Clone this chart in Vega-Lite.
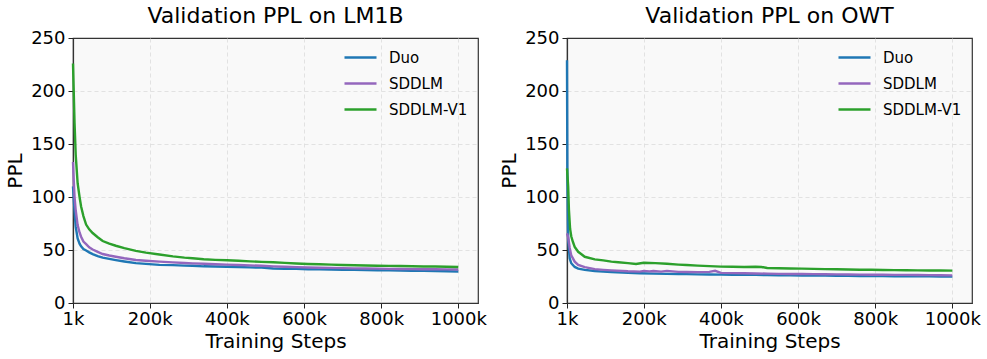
{
  "$schema": "https://vega.github.io/schema/vega-lite/v6.json",
  "padding": {"left": 5, "top": 4, "right": 5, "bottom": 2},
  "background": "white",
  "config": {
    "font": "DejaVu Sans",
    "view": {"stroke": "#333333", "strokeWidth": 1.2, "fill": "#f9f9f9"},
    "axis": {
      "domain": true,
      "domainColor": "#333333",
      "domainWidth": 1.2,
      "grid": true,
      "gridDash": [4, 3],
      "gridWidth": 0.8,
      "tickColor": "#222222",
      "tickSize": 5,
      "tickWidth": 1,
      "labelFont": "DejaVu Sans",
      "labelFontSize": 18,
      "labelColor": "#000000",
      "labelPadding": 2,
      "labelFlush": false,
      "labelOverlap": false,
      "titleFont": "DejaVu Sans",
      "titleFontSize": 20,
      "titleFontWeight": "normal",
      "titleColor": "#000000"
    },
    "axisY": {"titlePadding": 5, "labelPadding": 3},
    "axisX": {"titlePadding": 3},
    "title": {"font": "DejaVu Sans", "fontSize": 22, "fontWeight": "normal", "color": "#000000", "offset": 0, "dy": 3, "frame": "group", "anchor": "middle"},
    "legend": {
      "orient": "none",
      "legendX": 270,
      "legendY": 2,
      "padding": 0,
      "title": null,
      "symbolType": "stroke",
      "symbolSize": 1024,
      "symbolStrokeWidth": 2.6,
      "labelFont": "DejaVu Sans",
      "labelFontSize": 15,
      "labelColor": "#000000",
      "labelOffset": 11,
      "rowPadding": -3
    }
  },
  "spacing": 11,
  "resolve": {"scale": {"color": "independent"}, "legend": {"color": "independent"}},
  "datasets": {
    "lm1b": [
      {"model":"Duo","step":1,"ppl":110},{"model":"Duo","step":3,"ppl":98},{"model":"Duo","step":5,"ppl":87},{"model":"Duo","step":8,"ppl":72},{"model":"Duo","step":13,"ppl":61},{"model":"Duo","step":18,"ppl":56},{"model":"Duo","step":22,"ppl":53.5},{"model":"Duo","step":28,"ppl":51},{"model":"Duo","step":35,"ppl":49.5},{"model":"Duo","step":43,"ppl":47.8},{"model":"Duo","step":52,"ppl":46.2},{"model":"Duo","step":65,"ppl":44.3},{"model":"Duo","step":78,"ppl":42.8},{"model":"Duo","step":95,"ppl":41.6},{"model":"Duo","step":112,"ppl":40.5},{"model":"Duo","step":134,"ppl":39.2},{"model":"Duo","step":164,"ppl":37.6},{"model":"Duo","step":190,"ppl":36.9},{"model":"Duo","step":225,"ppl":36.0},{"model":"Duo","step":260,"ppl":35.7},{"model":"Duo","step":290,"ppl":35.3},{"model":"Duo","step":311,"ppl":35.1},{"model":"Duo","step":340,"ppl":34.6},{"model":"Duo","step":370,"ppl":34.4},{"model":"Duo","step":400,"ppl":34.2},{"model":"Duo","step":430,"ppl":34.0},{"model":"Duo","step":460,"ppl":33.6},{"model":"Duo","step":490,"ppl":33.4},{"model":"Duo","step":520,"ppl":32.6},{"model":"Duo","step":550,"ppl":32.3},{"model":"Duo","step":580,"ppl":32.2},{"model":"Duo","step":610,"ppl":31.9},{"model":"Duo","step":640,"ppl":31.8},{"model":"Duo","step":670,"ppl":31.5},{"model":"Duo","step":700,"ppl":31.4},{"model":"Duo","step":730,"ppl":31.3},{"model":"Duo","step":760,"ppl":31.1},{"model":"Duo","step":790,"ppl":30.9},{"model":"Duo","step":820,"ppl":30.8},{"model":"Duo","step":850,"ppl":30.6},{"model":"Duo","step":880,"ppl":30.4},{"model":"Duo","step":910,"ppl":30.3},{"model":"Duo","step":940,"ppl":30.1},{"model":"Duo","step":970,"ppl":29.9},{"model":"Duo","step":1000,"ppl":29.7},
      {"model":"SDDLM","step":1,"ppl":133},{"model":"SDDLM","step":3,"ppl":115},{"model":"SDDLM","step":5,"ppl":100},{"model":"SDDLM","step":8,"ppl":87.5},{"model":"SDDLM","step":13,"ppl":73.5},{"model":"SDDLM","step":18,"ppl":66.5},{"model":"SDDLM","step":22,"ppl":62.5},{"model":"SDDLM","step":28,"ppl":58},{"model":"SDDLM","step":35,"ppl":55.5},{"model":"SDDLM","step":43,"ppl":52.5},{"model":"SDDLM","step":52,"ppl":50.5},{"model":"SDDLM","step":65,"ppl":48.2},{"model":"SDDLM","step":78,"ppl":46.2},{"model":"SDDLM","step":95,"ppl":44.8},{"model":"SDDLM","step":112,"ppl":43.6},{"model":"SDDLM","step":134,"ppl":42.2},{"model":"SDDLM","step":164,"ppl":40.6},{"model":"SDDLM","step":190,"ppl":39.8},{"model":"SDDLM","step":225,"ppl":39.0},{"model":"SDDLM","step":260,"ppl":38.3},{"model":"SDDLM","step":290,"ppl":37.8},{"model":"SDDLM","step":311,"ppl":37.4},{"model":"SDDLM","step":340,"ppl":37.0},{"model":"SDDLM","step":370,"ppl":36.6},{"model":"SDDLM","step":400,"ppl":36.2},{"model":"SDDLM","step":430,"ppl":35.9},{"model":"SDDLM","step":460,"ppl":35.5},{"model":"SDDLM","step":490,"ppl":35.1},{"model":"SDDLM","step":520,"ppl":34.6},{"model":"SDDLM","step":550,"ppl":34.2},{"model":"SDDLM","step":580,"ppl":33.8},{"model":"SDDLM","step":610,"ppl":33.5},{"model":"SDDLM","step":640,"ppl":33.3},{"model":"SDDLM","step":670,"ppl":33.1},{"model":"SDDLM","step":700,"ppl":32.9},{"model":"SDDLM","step":730,"ppl":32.7},{"model":"SDDLM","step":760,"ppl":32.5},{"model":"SDDLM","step":790,"ppl":32.4},{"model":"SDDLM","step":820,"ppl":32.2},{"model":"SDDLM","step":850,"ppl":32.1},{"model":"SDDLM","step":880,"ppl":32.0},{"model":"SDDLM","step":910,"ppl":31.9},{"model":"SDDLM","step":940,"ppl":31.8},{"model":"SDDLM","step":970,"ppl":31.7},{"model":"SDDLM","step":1000,"ppl":31.6},
      {"model":"SDDLM-V1","step":1,"ppl":226},{"model":"SDDLM-V1","step":3,"ppl":198},{"model":"SDDLM-V1","step":5,"ppl":170},{"model":"SDDLM-V1","step":8,"ppl":140},{"model":"SDDLM-V1","step":13,"ppl":113},{"model":"SDDLM-V1","step":18,"ppl":100},{"model":"SDDLM-V1","step":22,"ppl":91},{"model":"SDDLM-V1","step":28,"ppl":82},{"model":"SDDLM-V1","step":35,"ppl":74},{"model":"SDDLM-V1","step":43,"ppl":69.5},{"model":"SDDLM-V1","step":52,"ppl":66},{"model":"SDDLM-V1","step":65,"ppl":62},{"model":"SDDLM-V1","step":78,"ppl":58.5},{"model":"SDDLM-V1","step":95,"ppl":56},{"model":"SDDLM-V1","step":112,"ppl":54},{"model":"SDDLM-V1","step":134,"ppl":51.8},{"model":"SDDLM-V1","step":164,"ppl":49.2},{"model":"SDDLM-V1","step":190,"ppl":47.5},{"model":"SDDLM-V1","step":225,"ppl":45.8},{"model":"SDDLM-V1","step":260,"ppl":44},{"model":"SDDLM-V1","step":290,"ppl":42.8},{"model":"SDDLM-V1","step":311,"ppl":42.2},{"model":"SDDLM-V1","step":340,"ppl":41.3},{"model":"SDDLM-V1","step":370,"ppl":40.7},{"model":"SDDLM-V1","step":400,"ppl":40.3},{"model":"SDDLM-V1","step":430,"ppl":39.8},{"model":"SDDLM-V1","step":460,"ppl":39.3},{"model":"SDDLM-V1","step":490,"ppl":38.8},{"model":"SDDLM-V1","step":520,"ppl":38.4},{"model":"SDDLM-V1","step":550,"ppl":37.9},{"model":"SDDLM-V1","step":580,"ppl":37.3},{"model":"SDDLM-V1","step":610,"ppl":36.8},{"model":"SDDLM-V1","step":640,"ppl":36.5},{"model":"SDDLM-V1","step":670,"ppl":36.2},{"model":"SDDLM-V1","step":700,"ppl":35.8},{"model":"SDDLM-V1","step":730,"ppl":35.6},{"model":"SDDLM-V1","step":760,"ppl":35.4},{"model":"SDDLM-V1","step":790,"ppl":35.2},{"model":"SDDLM-V1","step":820,"ppl":35.0},{"model":"SDDLM-V1","step":850,"ppl":34.9},{"model":"SDDLM-V1","step":880,"ppl":34.7},{"model":"SDDLM-V1","step":910,"ppl":34.5},{"model":"SDDLM-V1","step":940,"ppl":34.4},{"model":"SDDLM-V1","step":970,"ppl":34.2},{"model":"SDDLM-V1","step":1000,"ppl":34.0}
    ],
    "owt": [
      {"model":"Duo","step":1,"ppl":229},{"model":"Duo","step":2,"ppl":120},{"model":"Duo","step":4,"ppl":60},{"model":"Duo","step":8,"ppl":42},{"model":"Duo","step":12,"ppl":37.5},{"model":"Duo","step":21,"ppl":34},{"model":"Duo","step":30,"ppl":32.5},{"model":"Duo","step":47,"ppl":31.2},{"model":"Duo","step":73,"ppl":30.2},{"model":"Duo","step":95,"ppl":29.6},{"model":"Duo","step":116,"ppl":29.2},{"model":"Duo","step":159,"ppl":28.5},{"model":"Duo","step":190,"ppl":28.0},{"model":"Duo","step":225,"ppl":27.7},{"model":"Duo","step":260,"ppl":27.5},{"model":"Duo","step":290,"ppl":27.3},{"model":"Duo","step":311,"ppl":27.2},{"model":"Duo","step":340,"ppl":27.0},{"model":"Duo","step":370,"ppl":26.9},{"model":"Duo","step":400,"ppl":26.8},{"model":"Duo","step":430,"ppl":26.7},{"model":"Duo","step":460,"ppl":26.6},{"model":"Duo","step":490,"ppl":26.5},{"model":"Duo","step":520,"ppl":26.3},{"model":"Duo","step":550,"ppl":26.2},{"model":"Duo","step":580,"ppl":26.1},{"model":"Duo","step":610,"ppl":26.0},{"model":"Duo","step":640,"ppl":25.9},{"model":"Duo","step":670,"ppl":25.8},{"model":"Duo","step":700,"ppl":25.7},{"model":"Duo","step":730,"ppl":25.6},{"model":"Duo","step":760,"ppl":25.5},{"model":"Duo","step":790,"ppl":25.5},{"model":"Duo","step":820,"ppl":25.4},{"model":"Duo","step":850,"ppl":25.3},{"model":"Duo","step":880,"ppl":25.2},{"model":"Duo","step":910,"ppl":25.2},{"model":"Duo","step":940,"ppl":25.1},{"model":"Duo","step":970,"ppl":25.0},{"model":"Duo","step":1000,"ppl":24.9},
      {"model":"SDDLM","step":1,"ppl":65.7},{"model":"SDDLM","step":4,"ppl":62},{"model":"SDDLM","step":8,"ppl":52},{"model":"SDDLM","step":12,"ppl":45},{"model":"SDDLM","step":21,"ppl":39},{"model":"SDDLM","step":30,"ppl":36},{"model":"SDDLM","step":47,"ppl":33.8},{"model":"SDDLM","step":73,"ppl":32},{"model":"SDDLM","step":95,"ppl":31.3},{"model":"SDDLM","step":116,"ppl":30.8},{"model":"SDDLM","step":159,"ppl":29.9},{"model":"SDDLM","step":190,"ppl":29.6},{"model":"SDDLM","step":200,"ppl":30.3},{"model":"SDDLM","step":215,"ppl":29.8},{"model":"SDDLM","step":225,"ppl":30.2},{"model":"SDDLM","step":245,"ppl":29.6},{"model":"SDDLM","step":260,"ppl":30.3},{"model":"SDDLM","step":290,"ppl":29.4},{"model":"SDDLM","step":311,"ppl":29.3},{"model":"SDDLM","step":340,"ppl":29.1},{"model":"SDDLM","step":370,"ppl":29.4},{"model":"SDDLM","step":385,"ppl":30.4},{"model":"SDDLM","step":400,"ppl":28.4},{"model":"SDDLM","step":430,"ppl":28.2},{"model":"SDDLM","step":460,"ppl":28.0},{"model":"SDDLM","step":490,"ppl":27.9},{"model":"SDDLM","step":520,"ppl":27.7},{"model":"SDDLM","step":550,"ppl":27.5},{"model":"SDDLM","step":580,"ppl":27.4},{"model":"SDDLM","step":610,"ppl":27.3},{"model":"SDDLM","step":640,"ppl":27.2},{"model":"SDDLM","step":670,"ppl":27.1},{"model":"SDDLM","step":700,"ppl":27.0},{"model":"SDDLM","step":730,"ppl":26.9},{"model":"SDDLM","step":760,"ppl":26.8},{"model":"SDDLM","step":790,"ppl":26.7},{"model":"SDDLM","step":820,"ppl":26.6},{"model":"SDDLM","step":850,"ppl":26.5},{"model":"SDDLM","step":880,"ppl":26.5},{"model":"SDDLM","step":910,"ppl":26.4},{"model":"SDDLM","step":940,"ppl":26.3},{"model":"SDDLM","step":970,"ppl":26.2},{"model":"SDDLM","step":1000,"ppl":26.1},
      {"model":"SDDLM-V1","step":1,"ppl":127},{"model":"SDDLM-V1","step":4,"ppl":110},{"model":"SDDLM-V1","step":6,"ppl":88},{"model":"SDDLM-V1","step":9,"ppl":70},{"model":"SDDLM-V1","step":12,"ppl":63},{"model":"SDDLM-V1","step":16,"ppl":58},{"model":"SDDLM-V1","step":21,"ppl":53},{"model":"SDDLM-V1","step":30,"ppl":48.3},{"model":"SDDLM-V1","step":47,"ppl":43.6},{"model":"SDDLM-V1","step":73,"ppl":41.2},{"model":"SDDLM-V1","step":95,"ppl":40.2},{"model":"SDDLM-V1","step":116,"ppl":39},{"model":"SDDLM-V1","step":134,"ppl":38.5},{"model":"SDDLM-V1","step":159,"ppl":37.6},{"model":"SDDLM-V1","step":180,"ppl":36.8},{"model":"SDDLM-V1","step":200,"ppl":38.0},{"model":"SDDLM-V1","step":215,"ppl":37.8},{"model":"SDDLM-V1","step":230,"ppl":37.6},{"model":"SDDLM-V1","step":260,"ppl":37.0},{"model":"SDDLM-V1","step":290,"ppl":36.2},{"model":"SDDLM-V1","step":311,"ppl":35.8},{"model":"SDDLM-V1","step":340,"ppl":35.3},{"model":"SDDLM-V1","step":370,"ppl":34.8},{"model":"SDDLM-V1","step":400,"ppl":34.3},{"model":"SDDLM-V1","step":430,"ppl":34.2},{"model":"SDDLM-V1","step":460,"ppl":34.0},{"model":"SDDLM-V1","step":490,"ppl":34.2},{"model":"SDDLM-V1","step":505,"ppl":34.0},{"model":"SDDLM-V1","step":520,"ppl":33.0},{"model":"SDDLM-V1","step":550,"ppl":32.8},{"model":"SDDLM-V1","step":580,"ppl":32.6},{"model":"SDDLM-V1","step":610,"ppl":32.4},{"model":"SDDLM-V1","step":640,"ppl":32.2},{"model":"SDDLM-V1","step":670,"ppl":32.0},{"model":"SDDLM-V1","step":700,"ppl":31.8},{"model":"SDDLM-V1","step":730,"ppl":31.6},{"model":"SDDLM-V1","step":760,"ppl":31.4},{"model":"SDDLM-V1","step":790,"ppl":31.3},{"model":"SDDLM-V1","step":820,"ppl":31.2},{"model":"SDDLM-V1","step":850,"ppl":31.0},{"model":"SDDLM-V1","step":880,"ppl":30.9},{"model":"SDDLM-V1","step":910,"ppl":30.8},{"model":"SDDLM-V1","step":940,"ppl":30.7},{"model":"SDDLM-V1","step":970,"ppl":30.6},{"model":"SDDLM-V1","step":1000,"ppl":30.5}
    ]
  },
  "hconcat": [
    {
      "width": 405,
      "height": 265,
      "title": {"text": "Validation PPL on LM1B"},
      "data": {"name": "lm1b"},
      "mark": {"type": "line", "strokeWidth": 2.4},
      "encoding": {
        "x": {"field": "step", "type": "quantitative", "scale": {"domain": [1, 1051], "nice": false, "zero": false}, "axis": {"values": [1, 200, 400, 600, 800, 1000], "labelExpr": "datum.value + 'k'", "title": "Training Steps", "gridColor": {"condition": {"test": "datum.value == 1", "value": "transparent"}, "value": "#dcdcdc"}}},
        "y": {"field": "ppl", "type": "quantitative", "scale": {"domain": [0, 250], "nice": false}, "axis": {"values": [0, 50, 100, 150, 200, 250], "title": "PPL", "gridColor": {"condition": {"test": "datum.value == 250 || datum.value == 0", "value": "transparent"}, "value": "#dcdcdc"}}},
        "color": {"field": "model", "type": "nominal", "scale": {"domain": ["Duo", "SDDLM", "SDDLM-V1"], "range": ["#1f77b4", "#9467bd", "#2ca02c"]}, "legend": {"title": null}}
      }
    },
    {
      "width": 405,
      "height": 265,
      "title": {"text": "Validation PPL on OWT"},
      "data": {"name": "owt"},
      "mark": {"type": "line", "strokeWidth": 2.4},
      "encoding": {
        "x": {"field": "step", "type": "quantitative", "scale": {"domain": [1, 1051], "nice": false, "zero": false}, "axis": {"values": [1, 200, 400, 600, 800, 1000], "labelExpr": "datum.value + 'k'", "title": "Training Steps", "gridColor": {"condition": {"test": "datum.value == 1", "value": "transparent"}, "value": "#dcdcdc"}}},
        "y": {"field": "ppl", "type": "quantitative", "scale": {"domain": [0, 250], "nice": false}, "axis": {"values": [0, 50, 100, 150, 200, 250], "title": "PPL", "gridColor": {"condition": {"test": "datum.value == 250 || datum.value == 0", "value": "transparent"}, "value": "#dcdcdc"}}},
        "color": {"field": "model", "type": "nominal", "scale": {"domain": ["Duo", "SDDLM", "SDDLM-V1"], "range": ["#1f77b4", "#9467bd", "#2ca02c"]}, "legend": {"title": null}}
      }
    }
  ]
}
